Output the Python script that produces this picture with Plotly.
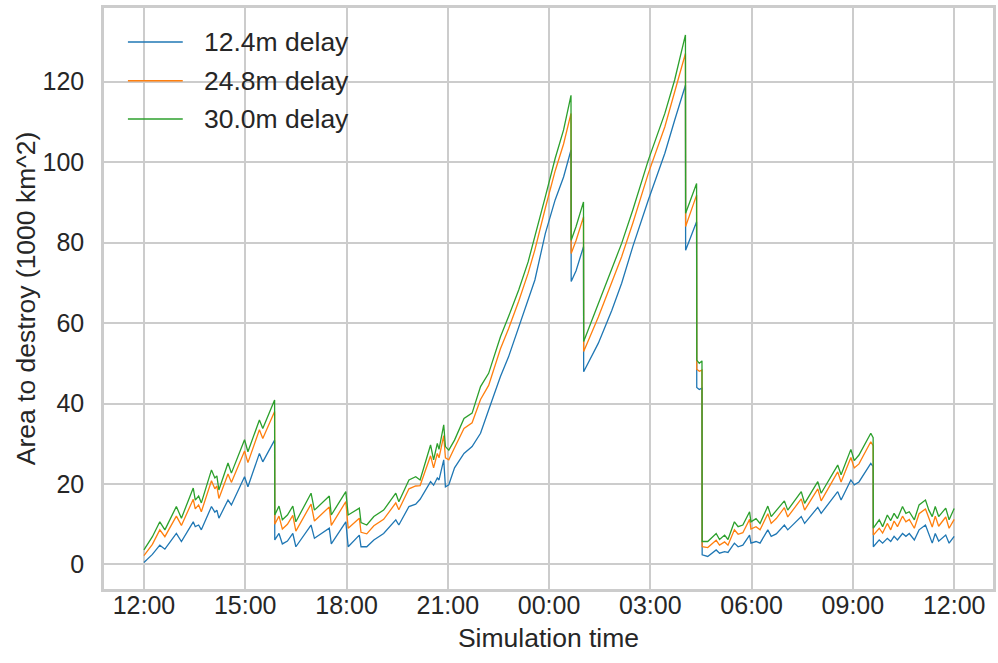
import pandas as pd
import plotly.graph_objects as go

# Elapsed simulation time (hours after the 12:00 start) and area still to destroy
# (thousands of km^2) for each reaction delay.
elapsed_hours = [
    0.00, 0.25, 0.47, 0.62, 0.96, 1.11, 1.46, 1.52, 1.62, 1.70,
    2.00, 2.10, 2.16, 2.22, 2.49, 2.59, 2.98, 3.08, 3.42, 3.52,
    3.87, 3.875,
    4.00, 4.10, 4.25, 4.41, 4.50, 4.95, 5.05, 5.49, 5.55, 5.98,
    6.05, 6.38, 6.43, 6.60, 6.81, 7.10, 7.46, 7.55, 7.85, 8.05,
    8.18, 8.49, 8.58, 8.69, 8.74, 8.88, 8.93, 9.03, 9.20, 9.48,
    9.72, 9.97, 10.21, 10.56, 10.80, 11.10, 11.38, 11.58, 11.89, 12.18,
    12.43, 12.65, 12.655,
    12.80, 13.02, 13.025, 13.46, 13.86, 14.15, 14.48, 14.94, 15.43, 15.72,
    16.04, 16.045, 16.37, 16.375, 16.45, 16.53, 16.535,
    16.70, 16.95, 17.05, 17.20, 17.30, 17.49, 17.60, 17.74, 17.94, 17.98,
    18.13, 18.25, 18.48, 18.58, 18.73, 18.97, 19.07, 19.47, 19.57, 19.96,
    20.06, 20.55, 20.65, 20.94, 21.04, 21.18, 21.53, 21.60, 21.605,
    21.78, 21.88, 22.02, 22.12, 22.22, 22.32, 22.47, 22.57, 22.67, 22.82,
    22.96, 23.15, 23.25, 23.35, 23.44, 23.54, 23.75, 23.85, 24.00,
]

delay_12_4 = [
    0.5, 2.5, 4.8, 3.8, 7.7, 5.7, 10.6, 9.4, 9.8, 8.6,
    14.4, 13.0, 13.5, 11.5, 16.0, 14.8, 21.8, 19.3, 27.6, 25.5,
    30.9, 6.1,
    7.7, 5.1, 5.8, 7.7, 4.4, 9.8, 6.5, 9.0, 5.1, 10.6,
    4.4, 7.3, 4.4, 4.4, 6.1, 7.7, 11.1, 9.8, 14.4, 15.0,
    16.2, 20.6, 19.7, 21.5, 21.0, 26.0, 19.3, 19.8, 24.0, 27.6,
    29.3, 32.6, 38.4, 46.7, 51.6, 59.1, 65.7, 70.7, 82.3, 90.6,
    96.3, 103.0, 70.3,
    73.0, 79.0, 47.9, 55.0, 63.2, 69.9, 79.0, 90.6, 102.2, 110.4,
    119.1, 78.1, 85.2, 44.0, 43.5, 43.8, 2.4,
    2.0, 3.6, 2.8, 3.2, 3.0, 5.3, 4.4, 4.8, 7.3, 5.3,
    5.7, 5.3, 8.6, 7.0, 7.6, 9.8, 8.6, 11.9, 10.2, 14.2,
    12.7, 18.1, 16.0, 21.0, 19.8, 20.5, 25.1, 24.3, 4.4,
    6.1, 5.3, 6.5, 5.7, 7.0, 6.1, 7.7, 7.0, 7.7, 6.1,
    8.6, 9.8, 7.7, 5.3, 7.7, 5.8, 7.3, 5.3, 7.0,
]

delay_24_8 = [
    2.2, 5.0, 8.6, 6.9, 12.0, 9.7, 16.2, 13.8, 14.8, 13.1,
    20.8, 18.8, 19.5, 16.4, 22.5, 20.4, 28.2, 25.3, 33.5, 31.3,
    38.0, 10.0,
    12.0, 8.8, 10.0, 12.2, 8.3, 15.0, 10.8, 14.3, 9.7, 15.6,
    9.0, 11.5, 8.0, 7.6, 9.6, 11.2, 15.3, 13.6, 18.8, 19.5,
    19.6, 27.0, 24.0, 27.6, 26.5, 32.0, 26.5, 26.0, 29.0, 33.8,
    35.2, 41.0, 44.5, 53.6, 58.6, 65.4, 72.4, 78.2, 88.6, 97.8,
    104.5, 112.1, 77.3,
    80.5, 86.4, 52.9, 61.5, 70.0, 76.5, 84.8, 97.2, 108.8, 117.2,
    127.0, 84.0, 91.8, 48.5, 48.0, 48.3, 4.4,
    4.2, 6.0, 4.8, 5.6, 4.8, 8.6, 7.5, 7.9, 11.2, 8.8,
    9.4, 8.6, 12.6, 10.2, 11.4, 14.1, 11.8, 16.3, 13.5, 18.8,
    15.8, 23.0, 20.5, 26.6, 24.0, 25.0, 30.5, 29.5, 7.3,
    9.0, 7.8, 10.2, 8.6, 10.8, 9.4, 12.0, 10.6, 11.2, 9.0,
    12.6, 13.8, 11.5, 9.3, 12.0, 9.5, 11.8, 9.0, 11.2,
]

delay_30_0 = [
    3.6, 6.9, 10.6, 8.6, 14.4, 11.5, 19.0, 16.0, 17.0, 15.3,
    23.5, 21.5, 22.0, 18.5, 25.2, 22.7, 31.0, 28.0, 35.9, 33.8,
    40.9, 12.3,
    14.5, 11.1, 12.3, 14.5, 10.6, 17.7, 13.5, 17.0, 12.3, 18.1,
    12.3, 14.0, 10.4, 9.8, 11.9, 13.5, 17.7, 15.6, 21.0, 21.8,
    21.0, 29.7, 26.0, 30.1, 28.6, 34.7, 29.3, 28.4, 30.9, 36.3,
    37.6, 44.2, 47.5, 56.6, 61.6, 68.2, 75.2, 81.4, 91.4, 100.9,
    108.0, 116.6, 80.6,
    84.0, 90.1, 55.4, 64.9, 73.2, 79.8, 88.1, 100.5, 112.1, 120.4,
    131.6, 87.3, 94.7, 50.8, 50.0, 50.6, 5.7,
    5.7, 7.7, 6.2, 7.3, 6.2, 10.6, 9.4, 9.8, 13.1, 10.6,
    11.4, 10.2, 14.5, 11.9, 13.5, 15.8, 13.5, 18.1, 15.2, 20.6,
    17.7, 24.7, 22.3, 28.6, 25.8, 27.2, 32.6, 31.5, 9.0,
    11.1, 9.4, 12.3, 10.9, 12.7, 11.4, 14.4, 12.7, 13.1, 11.1,
    14.8, 16.0, 13.5, 11.9, 14.4, 11.9, 14.0, 11.1, 13.9,
]

series_names = ["12.4m delay", "24.8m delay", "30.0m delay"]
series_colors = ["#1f77b4", "#ff7f0e", "#2ca02c"]
y_ticks = [0, 20, 40, 60, 80, 100, 120]

start = pd.Timestamp("2021-06-01 12:00")
times = start + pd.to_timedelta(elapsed_hours, unit="h")

text_color = "#262626"
grid_color = "#cccccc"
font_family = "Liberation Sans, Arial, sans-serif"

fig = go.Figure()
for name, color, values in zip(series_names, series_colors,
                               [delay_12_4, delay_24_8, delay_30_0]):
    fig.add_trace(go.Scatter(
        x=times, y=values, mode="lines", name=name,
        line=dict(color=color, width=1.3), showlegend=False,
    ))

# Legend drawn in the upper-left corner of the axes
legend_rows = [0.9415, 0.8749, 0.8090]
for name, color, ypos in zip(series_names, series_colors, legend_rows):
    fig.add_shape(type="line", xref="paper", yref="paper",
                  x0=0.0269, x1=0.0886, y0=ypos, y1=ypos,
                  line=dict(color=color, width=1.4))
    fig.add_annotation(xref="paper", yref="paper", x=0.110, y=ypos,
                       text=name, showarrow=False, xanchor="left",
                       yanchor="middle",
                       font=dict(size=26.5, color=text_color, family=font_family))

x_lo = start - pd.Timedelta(minutes=71)
x_hi = start + pd.Timedelta(hours=25, minutes=9)

fig.update_layout(
    width=998, height=663,
    margin=dict(l=104, r=2, t=8, b=74),
    paper_bgcolor="white", plot_bgcolor="white",
    font=dict(family=font_family, size=25, color=text_color),
    xaxis=dict(
        type="date", range=[x_lo, x_hi],
        tick0=start, dtick=3 * 3600 * 1000, tickformat="%H:%M",
        showgrid=True, gridcolor=grid_color, gridwidth=2,
        showline=True, linecolor=grid_color, linewidth=2.5, mirror=True,
        zeroline=False, ticks="", ticklabelstandoff=-8,
        tickfont=dict(size=25, color=text_color),
        title=dict(text="Simulation time", standoff=11,
                   font=dict(size=26.5, color=text_color)),
    ),
    yaxis=dict(
        range=[-6.1, 138.3], tickvals=y_ticks,
        showgrid=True, gridcolor=grid_color, gridwidth=2,
        showline=True, linecolor=grid_color, linewidth=2.5, mirror=True,
        zeroline=False, ticks="", ticklabelstandoff=12,
        tickfont=dict(size=25, color=text_color),
        title=dict(text="Area to destroy (1000 km^2)", standoff=0,
                   font=dict(size=26.5, color=text_color)),
    ),
)

fig.write_html("out.html")
